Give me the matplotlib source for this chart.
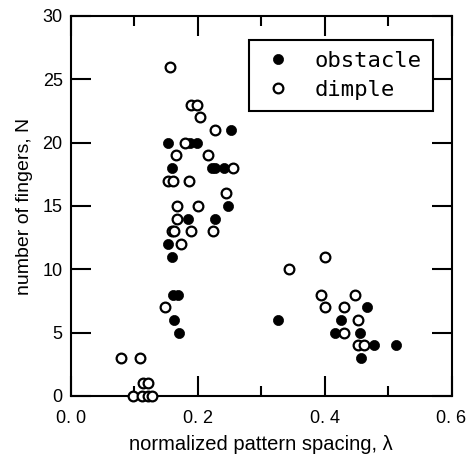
import matplotlib
matplotlib.use("Agg")
import matplotlib.pyplot as plt
from matplotlib.ticker import MultipleLocator, FixedLocator

# data
obstacle_x = [0.253, 0.153, 0.188, 0.199, 0.160, 0.222, 0.227, 0.242, 0.248, 0.185,
              0.227, 0.153, 0.159, 0.161, 0.169, 0.162, 0.170, 0.327, 0.467, 0.425,
              0.416, 0.455, 0.478, 0.513, 0.458]
obstacle_y = [21, 20, 20, 20, 18, 18, 18, 18, 15, 14,
              14, 12, 11, 8, 8, 6, 5, 6, 7, 6,
              5, 5, 4, 4, 3]

dimple_x = [0.156, 0.190, 0.199, 0.204, 0.227, 0.179, 0.165, 0.216, 0.256, 0.153,
            0.161, 0.186, 0.244, 0.167, 0.201, 0.167, 0.160, 0.163, 0.189, 0.224,
            0.174, 0.148, 0.079, 0.109, 0.114, 0.122, 0.098, 0.112, 0.121, 0.127,
            0.344, 0.400, 0.394, 0.448, 0.400, 0.431, 0.452, 0.431, 0.452, 0.462]
dimple_y = [26, 23, 23, 22, 21, 20, 19, 19, 18, 17,
            17, 17, 16, 15, 15, 14, 13, 13, 13, 13,
            12, 7, 3, 3, 1, 1, 0, 0, 0, 0,
            10, 11, 8, 8, 7, 7, 6, 5, 4, 4]

x_ticks = [0.0, 0.2, 0.4, 0.6]
x_ticklabels = ["0. 0", "0. 2", "0. 4", "0. 6"]
y_ticks = [0, 5, 10, 15, 20, 25, 30]
x_label = "normalized pattern spacing, λ"
y_label = "number of fingers, N"

fig = plt.figure(figsize=(4.68, 4.55), dpi=100)
ax = fig.add_axes([71/468, 1 - 396/455, (451.5 - 71)/468, (396 - 16)/455])

ax.plot(obstacle_x, obstacle_y, linestyle="none", marker="o", markersize=7.3,
        markerfacecolor="black", markeredgecolor="black", markeredgewidth=0.5,
        label="obstacle", clip_on=False, zorder=3)
ax.plot(dimple_x, dimple_y, linestyle="none", marker="o", markersize=7.0,
        markerfacecolor="white", markeredgecolor="black", markeredgewidth=1.6,
        label="dimple", clip_on=False, zorder=4)

ax.set_xlim(0, 0.6)
ax.set_ylim(0, 30)
ax.xaxis.set_major_locator(FixedLocator(x_ticks))
ax.set_xticklabels(x_ticklabels)
ax.xaxis.set_minor_locator(MultipleLocator(0.1))
ax.yaxis.set_major_locator(FixedLocator(y_ticks))

for s in ax.spines.values():
    s.set_linewidth(1.5)

ax.tick_params(which="both", direction="in", top=True, right=True, width=1.5,
               labelsize=13, colors="black")
ax.tick_params(which="major", length=14.5)
ax.tick_params(which="minor", length=7.5)
ax.tick_params(axis="x", which="major", pad=10)
ax.tick_params(axis="y", which="major", pad=6)
for lab in ax.get_xticklabels() + ax.get_yticklabels():
    lab.set_family("Liberation Sans")

ax.set_xlabel(x_label, fontsize=14.5, family="Liberation Sans", labelpad=6)
ax.set_ylabel(y_label, fontsize=14, family="Liberation Sans", labelpad=7)

leg = ax.legend(loc="upper right", bbox_to_anchor=((433 - 71)/380.5, (396 - 40)/380),
                borderaxespad=0, fancybox=False, framealpha=1, edgecolor="black",
                prop={"family": "DejaVu Sans Mono", "size": 16},
                handlelength=1.6, handletextpad=0.85, borderpad=0.5,
                labelspacing=0.4, numpoints=1)
leg.get_frame().set_linewidth(1.5)
leg.set_zorder(5)

fig.savefig("out.png", dpi=100)
